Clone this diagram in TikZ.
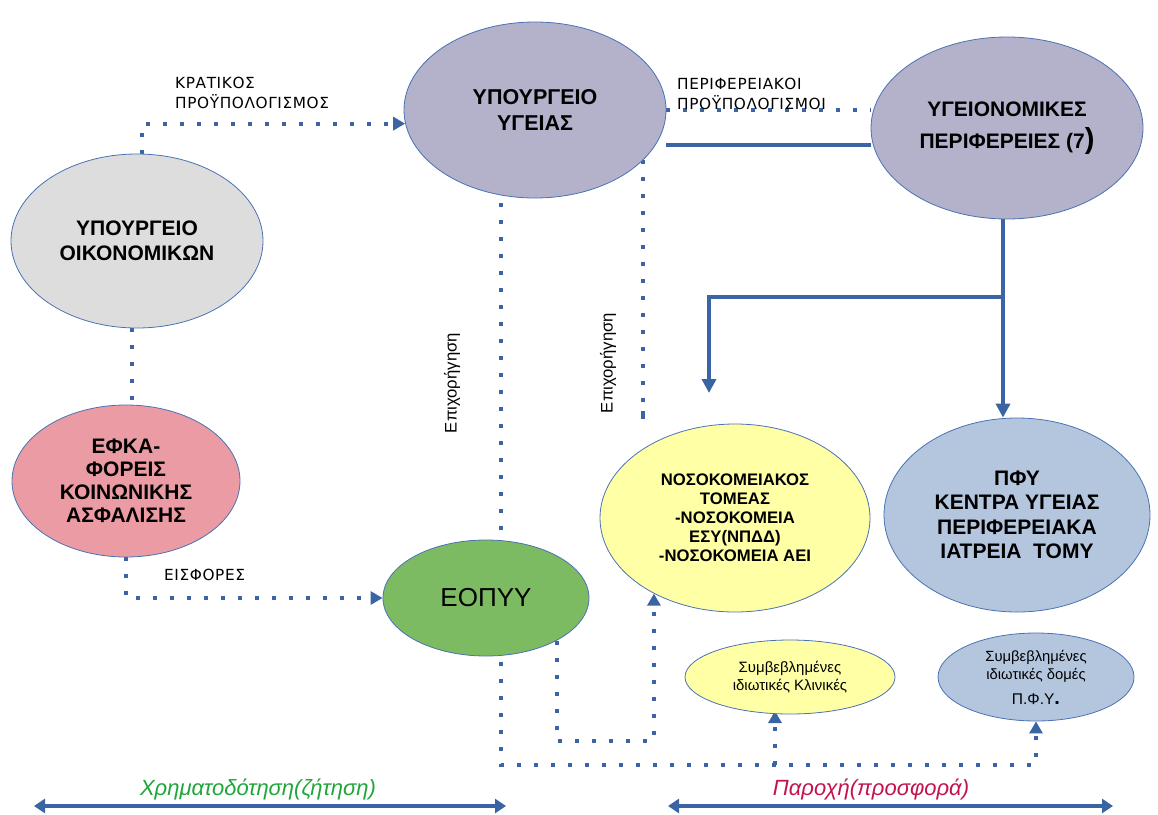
\documentclass[tikz,border=0pt]{standalone}
\usepackage{fontspec}
\setmainfont{Liberation Sans}
\newfontfamily\labelfont[LetterSpace=4]{DejaVu Sans}
\usetikzlibrary{shapes.geometric,arrows.meta,backgrounds}
\definecolor{lineblue}{HTML}{3B64A5}
\definecolor{ellborder}{HTML}{4A72B4}
\definecolor{lavender}{HTML}{B4B1CA}
\definecolor{lightgrey}{HTML}{DDDDDD}
\definecolor{pinkfill}{HTML}{EB9BA3}
\definecolor{greenfill}{HTML}{7DBB63}
\definecolor{yellowfill}{HTML}{FFFFA6}
\definecolor{bluegrey}{HTML}{B4C6DE}
\definecolor{labgreen}{HTML}{1FA53A}
\definecolor{labred}{HTML}{C3124C}
\begin{document}
\begin{tikzpicture}[x=1pt,y=-1pt,
  ell/.style={ellipse, draw=ellborder, line width=0.8pt, inner sep=0pt, align=center, text=black},
  bigbold/.style={font=\bfseries\fontsize{21}{25.5}\selectfont},
  dotline/.style={draw=lineblue, line width=4pt, dash pattern=on 4pt off 13pt},
  solidline/.style={draw=lineblue, line width=4pt},
  dottip/.style={-{Triangle[width=13pt,length=12pt]}},
  solidtip/.style={-{Triangle[width=14pt,length=14pt]}},
  lab/.style={font=\labelfont\fontsize{15.3}{20}\selectfont, align=left, anchor=west, inner sep=0pt},
  vlab/.style={font=\fontsize{16.7}{20}\selectfont, rotate=90, inner sep=0pt},
  botlab/.style={font=\itshape\fontsize{22}{24}\selectfont},
  bigarrow/.style={draw=lineblue, line width=4.5pt, {Triangle[width=14pt,length=11pt]}-{Triangle[width=14pt,length=11pt]}}
]
\useasboundingbox (0,0) rectangle (1158,814);

% ellipses
\node[ell, fill=lavender, minimum width=262pt, minimum height=176pt, font=\bfseries\fontsize{21.5}{25.5}\selectfont] (ygeias) at (535,110) {ΥΠΟΥΡΓΕΙΟ\\ΥΓΕΙΑΣ};
\node[ell, fill=lavender, minimum width=272pt, minimum height=182pt, font=\bfseries\fontsize{21}{32}\selectfont] (periph) at (1007,128) {ΥΓΕΙΟΝΟΜΙΚΕΣ\\ΠΕΡΙΦΕΡΕΙΕΣ (7{\fontsize{29}{29}\selectfont )}};
\node[ell, fill=lightgrey, minimum width=252pt, minimum height=174pt, bigbold] (oikon) at (137,241) {ΥΠΟΥΡΓΕΙΟ\\ΟΙΚΟΝΟΜΙΚΩΝ};
\node[ell, fill=pinkfill, minimum width=228pt, minimum height=152pt, font=\bfseries\fontsize{21}{23}\selectfont] (efka) at (126,481) {ΕΦΚΑ-\\ΦΟΡΕΙΣ\\ΚΟΙΝΩΝΙΚΗΣ\\ΑΣΦΑΛΙΣΗΣ};
\node[ell, fill=greenfill, minimum width=206pt, minimum height=116pt, font=\fontsize{26}{30}\selectfont] (eopyy) at (486,598) {ΕΟΠΥΥ};
\node[ell, fill=yellowfill, minimum width=270pt, minimum height=188pt, font=\bfseries\fontsize{16.7}{19}\selectfont] (hosp) at (735,518) {ΝΟΣΟΚΟΜΕΙΑΚΟΣ\\ΤΟΜΕΑΣ\\-ΝΟΣΟΚΟΜΕΙΑ\\ΕΣΥ(ΝΠΔΔ)\\-ΝΟΣΟΚΟΜΕΙΑ ΑΕΙ};
\node[ell, fill=bluegrey, minimum width=266pt, minimum height=194pt, font=\bfseries\fontsize{21}{24.5}\selectfont] (phy) at (1017,515) {ΠΦΥ\\ΚΕΝΤΡΑ ΥΓΕΙΑΣ\\ΠΕΡΙΦΕΡΕΙΑΚΑ\\ΙΑΤΡΕΙΑ\ \ ΤΟΜΥ};
\node[ell, fill=yellowfill, minimum width=210pt, minimum height=74pt, font=\fontsize{15}{17.5}\selectfont] (klin) at (790,677) {Συμβεβλημένες\\ιδιωτικές Κλινικές};
\node[ell, fill=bluegrey, minimum width=196pt, minimum height=88pt, font=\fontsize{14.8}{18}\selectfont] (privphy) at (1036,677) {Συμβεβλημένες\\ιδιωτικές δομές\\[7pt]{\fontsize{15.5}{18}\selectfont Π.Φ.Υ{\bfseries\fontsize{20}{18}\selectfont .}}};

% labels
\node[lab] (kratikos) at (175,93) {ΚΡΑΤΙΚΟΣ\\ΠΡΟΫΠΟΛΟΓΙΣΜΟΣ};
\node[lab] (perifer) at (677,94) {ΠΕΡΙΦΕΡΕΙΑΚΟΙ\\ΠΡΟΫΠΟΛΟΓΙΣΜΟΙ};
\node[lab] (eisfores) at (164,575) {ΕΙΣΦΟΡΕΣ};
\node[vlab] (epix1) at (452,383) {Επιχορήγηση};
\node[vlab] (epix2) at (608,363) {Επιχορήγηση};
\node[botlab, text=labgreen] (xrim) at (258,789) {Χρηματοδότηση(ζήτηση)};
\node[botlab, text=labred] (paroxi) at (871,789) {Παροχή(προσφορά)};

% helper coordinates
\coordinate (bus) at (0,765);
\coordinate (bus2) at (0,741);
\coordinate (br) at (1003,297);
\coordinate (hosparrow) at (709,393);
\coordinate (klarrow) at (775,711);
\coordinate (la1) at (34,806);
\coordinate (la2) at (506,806);
\coordinate (ra1) at (668,806);
\coordinate (ra2) at (1113,806);

\begin{scope}[on background layer]
% dotted connectors
\draw[dotline, dottip] ([xshift=5pt]oikon.north) |- (ygeias.186);
\draw[dotline] (ygeias.east) -- (ygeias.east -| periph.west);
\draw[dotline] ([xshift=-5pt]oikon.south) -- ([xshift=-5pt]oikon.south |- efka.north);
\draw[dotline, dottip] (efka.south) |- (eopyy.west);
\draw[dotline, dottip] ([yshift=-8pt]ygeias.-112) -- (ygeias.-112 |- bus) -| (privphy.south);
\draw[dotline, dottip] (bus -| klarrow) -- (klarrow);
\draw[dotline] (ygeias.-25) -- (ygeias.-25 |- hosp.north) -- ([yshift=20pt]ygeias.-25 |- hosp.north);
\draw[dotline, dottip] (eopyy.-31) |- (hosp.-137 |- bus2) -- (hosp.-137);
% solid connectors
\draw[solidline] (ygeias.-16 -| ygeias.east) -- (ygeias.-16 -| periph.west);
\draw[solidline, solidtip] (br |- periph.south) -- (br |- phy.north);
\draw[solidline, solidtip] (br) -| (hosparrow);
\end{scope}

\draw[bigarrow] (la1) -- (la2);
\draw[bigarrow] (ra1) -- (ra2);
\end{tikzpicture}
\end{document}
